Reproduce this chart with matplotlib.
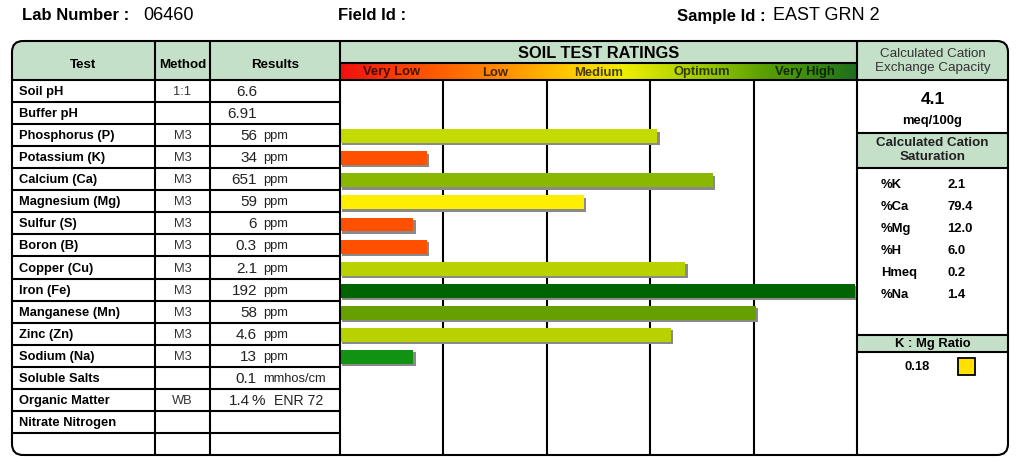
import numpy as np
import matplotlib
matplotlib.use('Agg')
import matplotlib.pyplot as plt
from matplotlib.patches import Rectangle, FancyBboxPatch
from matplotlib.colors import LinearSegmentedColormap
import matplotlib.patheffects as pe

plt.rcParams['font.family'] = ['Liberation Sans', 'DejaVu Sans']

# ---- report data ----
lab_number = '06460'
field_id = ''
sample_id = 'EAST GRN 2'

tests = ['Soil pH', 'Buffer pH', 'Phosphorus (P)', 'Potassium (K)', 'Calcium (Ca)',
         'Magnesium (Mg)', 'Sulfur (S)', 'Boron (B)', 'Copper (Cu)', 'Iron (Fe)',
         'Manganese (Mn)', 'Zinc (Zn)', 'Sodium (Na)', 'Soluble Salts',
         'Organic Matter', 'Nitrate Nitrogen']
methods = ['1:1', '', 'M3', 'M3', 'M3', 'M3', 'M3', 'M3', 'M3', 'M3', 'M3', 'M3', 'M3',
           '', 'WB', '']
results = ['6.6', '6.91', '56', '34', '651', '59', '6', '0.3', '2.1', '192', '58', '4.6',
           '13', '0.1', '1.4', '']
units = ['', '', 'ppm', 'ppm', 'ppm', 'ppm', 'ppm', 'ppm', 'ppm', 'ppm', 'ppm', 'ppm',
         'ppm', 'mmhos/cm', '%', '']
enr = 'ENR 72'

rating_labels = ['Very Low', 'Low', 'Medium', 'Optimum', 'Very High']
bar_tests = ['Phosphorus (P)', 'Potassium (K)', 'Calcium (Ca)', 'Magnesium (Mg)',
             'Sulfur (S)', 'Boron (B)', 'Copper (Cu)', 'Iron (Fe)', 'Manganese (Mn)',
             'Zinc (Zn)', 'Sodium (Na)']
bar_ratings = [3.07, 0.84, 3.61, 2.36, 0.71, 0.84, 3.34, 4.98, 4.02, 3.20, 0.71]
bar_colors = ['#C4DA00', '#FF5000', '#8AB800', '#FFEE00', '#FF5000', '#FF5000',
              '#B8D200', '#006400', '#66A000', '#B8D200', '#129212']

cec = '4.1'
sat_labels = ['%K', '%Ca', '%Mg', '%H', 'Hmeq', '%Na']
sat_values = ['2.1', '79.4', '12.0', '6.0', '0.2', '1.4']
kmg_ratio = '0.18'

# ---- layout (pixels) ----
W, H = 1023, 462
X0, X1, X2, X3, X4, X5 = 12, 155, 210, 340, 857, 1008
Y_TOP, Y_HDR, Y_BOT = 41, 80, 455
ROW_H = 22.06
GREEN = '#C5E0C8'
LW = 1.5

fig = plt.figure(figsize=(W / 100, H / 100), dpi=100)

# ratings bar area
axr = fig.add_axes([X3 / W, (H - Y_BOT) / H, (X4 - X3) / W, (Y_BOT - Y_HDR) / H])
axr.set_zorder(1)
n_rows_area = (Y_BOT - Y_HDR) / ROW_H
axr.set_xlim(0, 5)
axr.set_ylim(n_rows_area, 0)
axr.axis('off')
for k in range(1, 5):
    axr.axvline(k, color='black', lw=LW, zorder=1)
bar_y = [tests.index(t) + 0.55 for t in bar_tests]
bars = axr.barh(bar_y, bar_ratings, height=0.63, color=bar_colors, zorder=3)
for b in bars:
    b.set_path_effects([pe.SimplePatchShadow(offset=(1.6, -1.6), shadow_rgbFace='#8A8A8A',
                                             alpha=1.0), pe.Normal()])

# main drawing layer in pixel coordinates
ax = fig.add_axes([0, 0, 1, 1])
ax.set_zorder(2)
ax.patch.set_alpha(0)
ax.set_xlim(0, W)
ax.set_ylim(H, 0)
ax.axis('off')

outline = FancyBboxPatch((X0, Y_TOP), X5 - X0, Y_BOT - Y_TOP,
                         boxstyle='round,pad=0,rounding_size=11', fc='none', ec='none')
ax.add_patch(outline)

def fill(x, y, w, h, color):
    r = Rectangle((x, y), w, h, fc=color, ec='none', zorder=1)
    ax.add_patch(r)
    r.set_clip_path(outline)

fill(X0, Y_TOP, X3 - X0, Y_HDR - Y_TOP, GREEN)
fill(X3, Y_TOP, X4 - X3, 22, GREEN)
fill(X4, Y_TOP, X5 - X4, Y_HDR - Y_TOP, GREEN)
fill(X4, 133, X5 - X4, 35, GREEN)
fill(X4, 335, X5 - X4, 17, GREEN)

# gradient band
cmap = LinearSegmentedColormap.from_list('rate', [
    (0.0, '#F01010'), (0.18, '#FF5A00'), (0.32, '#FF9000'), (0.45, '#FFCC00'),
    (0.55, '#EEEE00'), (0.63, '#C4DC00'), (0.72, '#94C400'), (0.82, '#5AA000'),
    (0.92, '#3A8A10'), (1.0, '#1E6E1E')])
ax.imshow(np.linspace(0, 1, 256)[None, :], cmap=cmap, aspect='auto',
          extent=[X3, X4, Y_HDR, 63], zorder=1)
cw = (X4 - X3) / 5
for i, lab in enumerate(rating_labels):
    ax.text(X3 + cw * (i + 0.5), 72.5, lab, ha='center', va='center', fontsize=9.4,
            fontweight='bold', color='black', alpha=0.72, zorder=3)

# grid lines
kw = dict(color='black', lw=LW, zorder=4, solid_capstyle='butt')
for x in (X1, X2, X3, X4):
    ax.plot([x, x], [Y_TOP, Y_BOT], **kw)
for k in range(len(tests) + 1):
    y = Y_HDR + k * ROW_H
    ax.plot([X0, X3], [y, y], **kw)
ax.plot([X3, X4], [63, 63], **kw)
ax.plot([X3, X4], [Y_HDR, Y_HDR], **kw)
for y in (Y_HDR, 133, 168, 335, 352):
    ax.plot([X4, X5], [y, y], **kw)
ax.add_patch(FancyBboxPatch((X0, Y_TOP), X5 - X0, Y_BOT - Y_TOP,
                            boxstyle='round,pad=0,rounding_size=11', fc='none',
                            ec='black', lw=LW, zorder=5))

# top line
ax.text(22, 16, 'Lab Number :', fontsize=12, fontweight='bold', va='center')
ax.text(143, 16, lab_number, fontsize=13, va='center')
ax.text(338, 16, 'Field Id :', fontsize=12, fontweight='bold', va='center')
ax.text(410, 16, field_id, fontsize=13, va='center')
ax.text(677, 16, 'Sample Id :', fontsize=12, fontweight='bold', va='center')
ax.text(773, 16, sample_id, fontsize=13, va='center')

# column headers
ax.text((X0 + X1) / 2, 65, 'Test', ha='center', va='center', fontsize=9.6, fontweight='bold')
ax.text((X1 + X2) / 2, 65, 'Method', ha='center', va='center', fontsize=9.6,
        fontweight='bold')
ax.text((X2 + X3) / 2, 65, 'Results', ha='center', va='center', fontsize=9.6,
        fontweight='bold')
ax.text((X3 + X4) / 2, 53, 'SOIL TEST RATINGS', ha='center', va='center', fontsize=11.8,
        fontweight='bold')

# table rows
for i, t in enumerate(tests):
    yc = Y_HDR + (i + 0.5) * ROW_H + 1
    ax.text(19, yc, t, va='center', fontsize=9.3, fontweight='bold')
    ax.text((X1 + X2) / 2, yc, methods[i], ha='center', va='center', fontsize=9.3,
            color='#333333')
    if units[i] == '%':
        ax.text(250, yc, results[i], ha='right', va='center', fontsize=11, color='#222222')
        ax.text(252, yc, units[i], va='center', fontsize=11, color='#222222')
        ax.text(274, yc, enr, va='center', fontsize=10.2, color='#222222')
    else:
        ax.text(257, yc, results[i], ha='right', va='center', fontsize=11, color='#222222')
        ax.text(263, yc, units[i], va='center', fontsize=9.3, color='#222222')

# right panel
xc = (X4 + X5) / 2
ax.text(xc, 61, 'Calculated Cation\nExchange Capacity', ha='center', va='center',
        fontsize=9.6, color='#333333', linespacing=1.15)
ax.text(xc, 100, cec, ha='center', va='center', fontsize=12.5, fontweight='bold')
ax.text(xc, 121, 'meq/100g', ha='center', va='center', fontsize=9.4, fontweight='bold')
ax.text(xc, 150, 'Calculated Cation\nSaturation', ha='center', va='center', fontsize=9.6,
        fontweight='bold', color='#222222', linespacing=1.15)
for i, (lab, val) in enumerate(zip(sat_labels, sat_values)):
    yc = 185 + i * 22
    ax.text(881, yc, lab, va='center', fontsize=9.4, fontweight='bold')
    ax.text(947, yc, val, va='center', fontsize=9.4, fontweight='bold')
ax.text(xc, 343.5, 'K : Mg Ratio', ha='center', va='center', fontsize=9.4, fontweight='bold')
ax.text(917, 367, kmg_ratio, ha='center', va='center', fontsize=9.4, fontweight='bold')
ax.add_patch(Rectangle((958, 358), 17, 17, fc='#FFE000', ec='black', lw=1.3, zorder=4))

fig.savefig('out.png', dpi=100)
